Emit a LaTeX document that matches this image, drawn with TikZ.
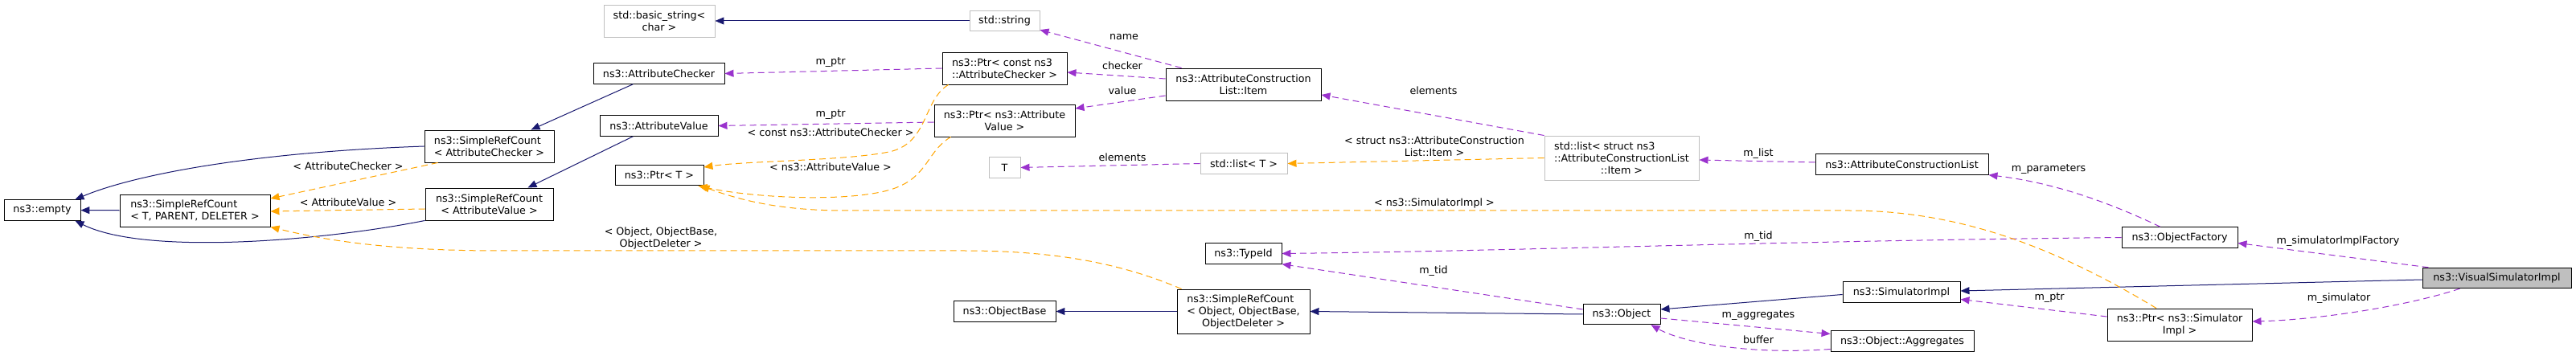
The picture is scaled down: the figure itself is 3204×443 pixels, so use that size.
\documentclass[tikz,border=0pt]{standalone}
\usepackage{fontspec}
\setmainfont{DejaVu Sans}
\usetikzlibrary{arrows.meta}
\definecolor{inhblue}{RGB}{25,25,112}
\definecolor{usepurple}{RGB}{154,50,205}
\definecolor{tmplorange}{RGB}{255,165,0}
\definecolor{undocgray}{RGB}{191,191,191}
\begin{document}
\begin{tikzpicture}[x=1pt, y=-1pt, >={Triangle[length=11pt,width=9pt]},
    cls/.style={draw=black, line width=0.9pt, minimum height=25.5pt, inner sep=0pt, align=center, font=\fontsize{12.7}{15}\selectfont},
    undoc/.style={cls, draw=undocgray},
    inh/.style={->, inhblue, line width=1pt},
    usage/.style={->, usepurple, line width=1pt, dash pattern=on 8pt off 5pt},
    tmpl/.style={->, tmplorange, line width=1pt, dash pattern=on 8pt off 5pt},
    lbl/.style={font=\fontsize{12.7}{15}\selectfont, align=center, inner sep=0pt}]
                \fill[white] (0,0) rectangle (3204,443);

                \node[cls, minimum width=95pt] (empty) at (52.5,261.5) {ns3::empty};
                \node[cls, minimum width=187pt, minimum height=40pt, align=left] (srcT) at (242.5,262) {ns3::SimpleRefCount\\< T, PARENT, DELETER >};
                \node[cls, minimum width=161pt, minimum height=40pt, align=left] (srcAC) at (608.5,182) {ns3::SimpleRefCount\\< AttributeChecker >};
                \node[cls, minimum width=159pt, minimum height=40pt] (srcAV) at (608.5,254) {ns3::SimpleRefCount\\< AttributeValue >};
                \node[undoc, minimum width=138pt, minimum height=40pt] (bstr) at (820,26) {std::basic\_string<\\char >};
                \node[cls, minimum width=163pt] (attrChecker) at (819.5,91.5) {ns3::AttributeChecker};
                \node[cls, minimum width=147pt] (attrValue) at (819.5,156.5) {ns3::AttributeValue};
                \node[cls, minimum width=110pt] (ptrT) at (820,218) {ns3::Ptr< T >};
                \node[undoc, minimum width=87pt] (stdstring) at (1249.5,26) {std::string};
                \node[cls, minimum width=155pt, minimum height=40pt, align=left] (ptrAC) at (1249.5,85) {ns3::Ptr< const ns3\\::AttributeChecker >};
                \node[cls, minimum width=175pt, minimum height=40pt] (ptrAV) at (1249.5,150) {ns3::Ptr< ns3::Attribute\\Value >};
                \node[undoc, minimum width=39pt] (tT) at (1249.5,208.5) {T};
                \node[cls, minimum width=127pt] (objBase) at (1249.5,387.5) {ns3::ObjectBase};
                \node[cls, minimum width=193pt, minimum height=40pt] (aclItem) at (1546.5,105) {ns3::AttributeConstruction\\List::Item};
                \node[undoc, minimum width=108pt] (listT) at (1547,203.5) {std::list< T >};
                \node[cls, minimum width=95pt] (typeId) at (1546.5,315.5) {ns3::TypeId};
                \node[cls, minimum width=165pt, minimum height=55pt] (srcObj) at (1546.5,387.5) {\rlap{ns3::SimpleRefCount}\phantom{< Object, ObjectBase,}\\< Object, ObjectBase,\\ObjectDeleter >};
                \node[undoc, minimum width=192pt, minimum height=55pt] (listItem) at (2017,196.5) {\rlap{std::list< struct ns3}\phantom{::AttributeConstructionList}\\::AttributeConstructionList\\::Item >};
                \node[cls, minimum width=96pt] (object) at (2017,391) {ns3::Object};
                \node[cls, minimum width=215pt] (acl) at (2365.5,204.5) {ns3::AttributeConstructionList};
                \node[cls, minimum width=146pt] (simImpl) at (2365,363.5) {ns3::SimulatorImpl};
                \node[cls, minimum width=178pt] (aggregates) at (2366,424.5) {ns3::Object::Aggregates};
                \node[cls, minimum width=144pt] (objFactory) at (2711,295.5) {ns3::ObjectFactory};
                \node[cls, minimum width=180pt, minimum height=40pt] (ptrSim) at (2711,404) {ns3::Ptr< ns3::Simulator\\Impl >};
                \node[cls, fill=undocgray, minimum width=185pt] (visual) at (3105.5,346) {ns3::VisualSimulatorImpl};

                \draw[inh] (srcT) -- (empty);
                \draw[inh] (srcAC.west) .. controls (300,190) and (160,220) .. ([xshift=-7pt]empty.north east);
                \draw[inh] (srcAV.south west) .. controls (400,300) and (180,318) .. ([xshift=-7pt]empty.south east);
                \draw[inh] ([xshift=-32pt]attrChecker.south) -- ([xshift=52pt]srcAC.north);
                \draw[inh] ([xshift=-32pt]attrValue.south) -- ([xshift=48pt]srcAV.north);
                \draw[inh] (stdstring) -- (bstr);
                \draw[inh] (srcObj) -- (objBase);
                \draw[inh] (object.west) -- (srcObj.east);
                \draw[inh] ([yshift=-3pt]simImpl.west) -- ([yshift=6pt]object.east);
                \draw[inh] ([yshift=-2pt]visual.west) -- ([yshift=1.5pt]simImpl.east);

                \draw[usage] (ptrAC.west) -- (attrChecker.east);
                \draw[usage] ([yshift=-2pt]ptrAV.west) -- (attrValue.east);
                \draw[usage] ([xshift=20pt]aclItem.north west) -- ([yshift=2pt]stdstring.south east);
                \draw[usage] ([yshift=7pt]aclItem.west) -- ([yshift=-5pt]ptrAC.east);
                \draw[usage] ([yshift=-14pt]aclItem.west) -- ([yshift=15pt]ptrAV.east);
                \draw[usage] (listT.west) -- (tT.east);
                \draw[usage] (listItem.north west) -- ([yshift=-13pt]aclItem.east);
                \draw[usage] ([yshift=2.5pt]acl.west) -- ([yshift=-2.5pt]listItem.east);
                \draw[usage] ([xshift=-24pt]objFactory.north) .. controls (2630,255) and (2560,228) .. (acl.south east);
                \draw[usage] (objFactory.west) .. controls (2200,300) and (1900,312) .. (typeId.east);
                \draw[usage] ([yshift=6pt]object.west) -- (typeId.south east);
                \draw[usage] ([yshift=-5pt]object.east) -- ([yshift=9pt]aggregates.west);
                \draw[usage] ([yshift=-10pt]aggregates.west) .. controls (2170,442) and (2090,425) .. ([xshift=-12pt]object.south east);
                \draw[usage] ([yshift=10pt]ptrSim.west) -- ([yshift=-9pt]simImpl.east);
                \draw[usage] ([xshift=8pt]visual.north west) -- ([yshift=-7pt]objFactory.east);
                \draw[usage] ([xshift=-46pt]visual.south) .. controls (2990,382) and (2880,398) .. ([yshift=4pt]ptrSim.east);

                \draw[tmpl] ([xshift=17pt]srcAC.south west) -- ([yshift=15pt]srcT.east);
                \draw[tmpl] ([yshift=-6pt]srcAV.west) -- ([yshift=-1pt]srcT.east);
                \draw[tmpl] ([xshift=6pt]srcObj.north west) .. controls (1400,330) and (1320,312) .. (1200,312) -- (620,312) .. controls (480,312) and (400,298) .. (srcT.south east);
                \draw[tmpl] ([xshift=8pt]ptrAC.south west) .. controls (1148,125) and (1155,175) .. (1110,188) .. controls (1060,200) and (930,200) .. ([yshift=10pt]ptrT.east);
                \draw[tmpl] ([xshift=21pt]ptrAV.south west) .. controls (1150,190) and (1155,225) .. (1100,238) .. controls (1040,252) and (930,245) .. ([xshift=-7pt]ptrT.south east);
                \draw[tmpl] ([xshift=-29pt]ptrSim.north) .. controls (2560,310) and (2440,262) .. (2300,262) -- (1050,262) .. controls (960,262) and (910,245) .. ([xshift=-4pt]ptrT.south east);
                \draw[tmpl] (listItem.west) -- (listT.east);

                \node[lbl] (lblSrcAC) at (433,207) {< AttributeChecker >};
                \node[lbl] (lblSrcAV) at (433,252) {< AttributeValue >};
                \node[lbl] (lblSrcObj) at (822,296) {< Object, ObjectBase,\\ObjectDeleter >};
                \node[lbl] (lblPtrA) at (1033,78) {m\_ptr};
                \node[lbl] (lblPtrB) at (1033,143) {m\_ptr};
                \node[lbl] (lblPtrAC) at (1033,165) {< const ns3::AttributeChecker >};
                \node[lbl] (lblPtrAV) at (1033,208) {< ns3::AttributeValue >};
                \node[lbl] (lblName) at (1398,46) {name};
                \node[lbl] (lblChecker) at (1396,82) {checker};
                \node[lbl] (lblValue) at (1396,113) {value};
                \node[lbl] (lblElemT) at (1396,196) {elements};
                \node[lbl] (lblElemItem) at (1783,113) {elements};
                \node[lbl] (lblListItem) at (1784,182) {< struct ns3::AttributeConstruction\\List::Item >};
                \node[lbl] (lblPtrSim) at (1784,253) {< ns3::SimulatorImpl >};
                \node[lbl] (lblTidObj) at (1783,337) {m\_tid};
                \node[lbl] (lblList) at (2187,191) {m\_list};
                \node[lbl] (lblTidFac) at (2187,294) {m\_tid};
                \node[lbl] (lblAggr) at (2187,393) {m\_aggregates};
                \node[lbl] (lblBuffer) at (2187,423) {buffer};
                \node[lbl] (lblParams) at (2548,211) {m\_parameters};
                \node[lbl] (lblPtrImpl) at (2549,371) {m\_ptr};
                \node[lbl] (lblFactory) at (2908,300) {m\_simulatorImplFactory};
                \node[lbl] (lblSim) at (2909,371) {m\_simulator};
            \end{tikzpicture}
\end{document}
